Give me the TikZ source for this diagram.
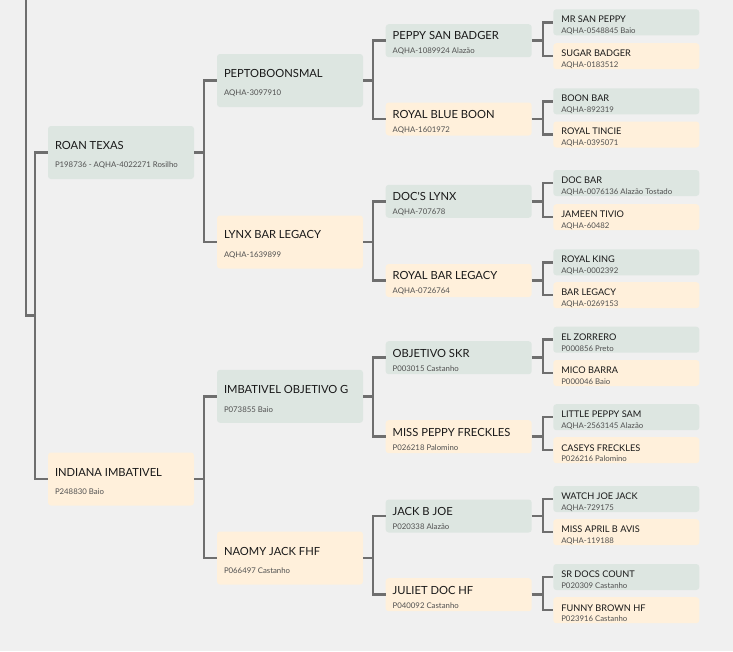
\documentclass[tikz,border=0pt]{standalone}
\usepackage{fontspec}
\setmainfont{Lato}
\usetikzlibrary{positioning}
\definecolor{bgc}{HTML}{F0F0F0}
\definecolor{sirec}{HTML}{DDE6E1}
\definecolor{damc}{HTML}{FFF0DB}
\definecolor{linec}{HTML}{6E6E6E}
\definecolor{regc}{HTML}{505050}
\newlength{\hrtop}
\newcommand{\hr}[2]{\spaceskip=0pt\xspaceskip=0pt\hyphenpenalty=10000\rule{0pt}{\hrtop}#1\\{\fontsize{7.8}{9}\selectfont\color{regc}#2}}

\begin{document}
\begin{tikzpicture}[x=1pt,y=-1pt,
  horse/.style={rounded corners=3pt,inner xsep=7pt,inner ysep=1pt,align=left,text width=132pt,text=black!90},
  big/.style={horse,minimum height=53pt,font=\fontsize{11.2}{18.5}\selectfont\setlength{\hrtop}{13.4pt}},
  mid/.style={horse,minimum height=33pt,font=\fontsize{11.2}{13.8}\selectfont\setlength{\hrtop}{13.4pt}},
  small/.style={horse,minimum height=26pt,inner xsep=8pt,inner ysep=0pt,text width=130pt,font=\fontsize{9.2}{10.8}\selectfont\setlength{\hrtop}{12.8pt}},
  sire/.style={fill=sirec},
  dam/.style={fill=damc},
  link/.style={draw=linec,line width=2.5pt}]
\useasboundingbox (0,0) rectangle (733,651);
\fill[bgc] (0,0) rectangle (733,651);
\node[big,sire] (roan) at (121,152.5) {\hr{ROAN TEXAS}{P198736 - AQHA-4022271 Rosilho}};
\node[big,dam] (indiana) at (121,479) {\hr{INDIANA IMBATIVEL}{P248830 Baio}};
\node[big,sire] (pepto) at (290,80.5) {\hr{PEPTOBOONSMAL}{AQHA-3097910}};
\node[big,dam] (lynx) at (290,242) {\hr{LYNX BAR LEGACY}{AQHA-1639899}};
\node[big,sire] (imbat) at (290,396.3) {\hr{IMBATIVEL OBJETIVO G}{P073855 Baio}};
\node[big,dam] (naomy) at (290,558) {\hr{NAOMY JACK FHF}{P066497 Castanho}};
\node[mid,sire] (psb) at (458.7,40.7) {\hr{PEPPY SAN BADGER}{AQHA-1089924 Alazão}};
\node[mid,dam] (rbb) at (458.7,119) {\hr{ROYAL BLUE BOON}{AQHA-1601972}};
\node[mid,sire] (dlynx) at (458.7,201.3) {\hr{DOC\textquotesingle S LYNX}{AQHA-707678}};
\node[mid,dam] (rbl) at (458.7,280.5) {\hr{ROYAL BAR LEGACY}{AQHA-0726764}};
\node[mid,sire] (oskr) at (458.7,357.7) {\hr{OBJETIVO SKR}{P003015 Castanho}};
\node[mid,dam] (mpf) at (458.7,436.7) {\hr{MISS PEPPY FRECKLES}{P026218 Palomino}};
\node[mid,sire] (jbj) at (458.7,516) {\hr{JACK B JOE}{P020338 Alazão}};
\node[mid,dam] (jdh) at (458.7,594.7) {\hr{JULIET DOC HF}{P040092 Castanho}};
\node[small,sire] (msp) at (626.3,22.3) {\hr{MR SAN PEPPY}{AQHA-0548845 Baio}};
\node[small,dam] (sb) at (626.3,56.2) {\hr{SUGAR BADGER}{AQHA-0183512}};
\node[small,sire] (bb) at (626.3,101.3) {\hr{BOON BAR}{AQHA-892319}};
\node[small,dam] (rti) at (626.3,134.5) {\hr{ROYAL TINCIE}{AQHA-0395071}};
\node[small,sire] (db) at (626.3,183) {\hr{DOC BAR}{AQHA-0076136 Alazão Tostado}};
\node[small,dam] (jt) at (626.3,217.2) {\hr{JAMEEN TIVIO}{AQHA-60482}};
\node[small,sire] (rk) at (626.3,262.3) {\hr{ROYAL KING}{AQHA-0002392}};
\node[small,dam] (bl) at (626.3,295.2) {\hr{BAR LEGACY}{AQHA-0269153}};
\node[small,sire] (ez) at (626.3,339.7) {\hr{EL ZORRERO}{P000856 Preto}};
\node[small,dam] (mb) at (626.3,373) {\hr{MICO BARRA}{P000046 Baio}};
\node[small,sire] (lps) at (626.3,417.2) {\hr{LITTLE PEPPY SAM}{AQHA-2563145 Alazão}};
\node[small,dam] (cf) at (626.3,450.2) {\hr{CASEYS FRECKLES}{P026216 Palomino}};
\node[small,sire] (wjj) at (626.3,499) {\hr{WATCH JOE JACK}{AQHA-729175}};
\node[small,dam] (mab) at (626.3,532.2) {\hr{MISS APRIL B AVIS}{AQHA-119188}};
\node[small,sire] (sdc) at (626.3,577) {\hr{SR DOCS COUNT}{P020309 Castanho}};
\node[small,dam] (fbh) at (626.3,610.2) {\hr{FUNNY BROWN HF}{P023916 Castanho}};
\coordinate (up) at (26,0);
\coordinate (jn) at (35,315.5);
\draw[link] (up) |- (jn);
\draw[link] (roan.west) -- ++(-13,0) |- (indiana.west);
\draw[link] (roan.east) -- ++(10,0) |- (pepto.west);
\draw[link] (roan.east) -- ++(10,0) |- (lynx.west);
\draw[link] (indiana.east) -- ++(10,0) |- (imbat.west);
\draw[link] (indiana.east) -- ++(10,0) |- (naomy.west);
\draw[link] (pepto.east) -- ++(10,0) |- (psb.west);
\draw[link] (pepto.east) -- ++(10,0) |- (rbb.west);
\draw[link] (lynx.east) -- ++(10,0) |- (dlynx.west);
\draw[link] (lynx.east) -- ++(10,0) |- (rbl.west);
\draw[link] (imbat.east) -- ++(10,0) |- (oskr.west);
\draw[link] (imbat.east) -- ++(10,0) |- (mpf.west);
\draw[link] (naomy.east) -- ++(10,0) |- (jbj.west);
\draw[link] (naomy.east) -- ++(10,0) |- (jdh.west);
\draw[link] (psb.east) -- ++(11,0) |- (msp.west);
\draw[link] (psb.east) -- ++(11,0) |- (sb.west);
\draw[link] (rbb.east) -- ++(11,0) |- (bb.west);
\draw[link] (rbb.east) -- ++(11,0) |- (rti.west);
\draw[link] (dlynx.east) -- ++(11,0) |- (db.west);
\draw[link] (dlynx.east) -- ++(11,0) |- (jt.west);
\draw[link] (rbl.east) -- ++(11,0) |- (rk.west);
\draw[link] (rbl.east) -- ++(11,0) |- (bl.west);
\draw[link] (oskr.east) -- ++(11,0) |- (ez.west);
\draw[link] (oskr.east) -- ++(11,0) |- (mb.west);
\draw[link] (mpf.east) -- ++(11,0) |- (lps.west);
\draw[link] (mpf.east) -- ++(11,0) |- (cf.west);
\draw[link] (jbj.east) -- ++(11,0) |- (wjj.west);
\draw[link] (jbj.east) -- ++(11,0) |- (mab.west);
\draw[link] (jdh.east) -- ++(11,0) |- (sdc.west);
\draw[link] (jdh.east) -- ++(11,0) |- (fbh.west);
\end{tikzpicture}
\end{document}
